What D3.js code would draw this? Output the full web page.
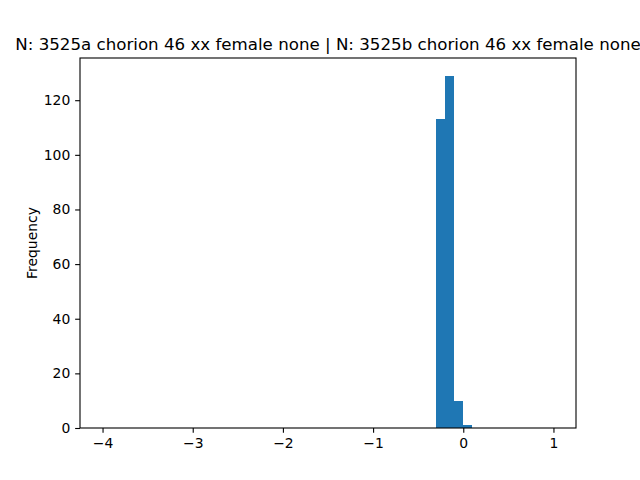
<!DOCTYPE html>
<html><head><meta charset="utf-8">
<script src="https://cdn.jsdelivr.net/npm/d3@7"></script>
<style>body{margin:0;background:#fff}svg{display:block;font-family:"DejaVu Sans",sans-serif}</style>
</head><body><svg id="c" width="640" height="480"></svg>
<script>
const binEdges = [-0.3, -0.2, -0.1, 0.0, 0.1];
const counts = [113, 129, 10, 1];
const xTicks = [-4, -3, -2, -1, 0, 1];
const yTicks = [0, 20, 40, 60, 80, 100, 120];
const title = "N: 3525a chorion 46 xx female none | N: 3525b chorion 46 xx female none";
const yLabel = "Frequency";

const svg = d3.select("#c");
const L = 80, R = 576, T = 58, B = 428;
const x = d3.scaleLinear().domain([-4.25, 1.25]).range([L, R]);
const y = d3.scaleLinear().domain([0, 129 * 1.05]).range([B, T]);

svg.append("g").attr("shape-rendering", "crispEdges").selectAll("rect").data(counts).join("rect")
  .attr("x", (d, i) => x(binEdges[i]))
  .attr("width", (d, i) => x(binEdges[i + 1]) - x(binEdges[i]))
  .attr("y", d => y(d))
  .attr("height", d => y(0) - y(d))
  .attr("fill", "#1f77b4");

const fmt = d => d < 0 ? "\u2212" + Math.abs(d) : String(d);
const xa = svg.append("g").attr("transform", `translate(0,${B})`)
  .call(d3.axisBottom(x).tickValues(xTicks).tickFormat(fmt).tickSize(4.86).tickPadding(4.86));
const ya = svg.append("g").attr("transform", `translate(${L},0)`)
  .call(d3.axisLeft(y).tickValues(yTicks).tickSize(4.86).tickPadding(4.86));
[xa, ya].forEach(a => {
  a.select(".domain").remove();
  a.selectAll("text").attr("font-size", 13.9).attr("font-family", "DejaVu Sans").attr("fill", "#000");
  a.selectAll("line").attr("stroke", "#000").attr("stroke-width", 1.1);
});
svg.append("rect").attr("x", L).attr("y", T).attr("width", R - L).attr("height", B - T)
  .attr("fill", "none").attr("stroke", "#000").attr("stroke-width", 1.1);

svg.append("text").attr("x", (L + R) / 2).attr("y", 49.5).attr("text-anchor", "middle")
  .attr("font-size", 16.67).text(title);
svg.append("text").attr("transform", `translate(36.5,${(T + B) / 2}) rotate(-90)`)
  .attr("text-anchor", "middle").attr("font-size", 13.9).text(yLabel);
</script></body></html>
